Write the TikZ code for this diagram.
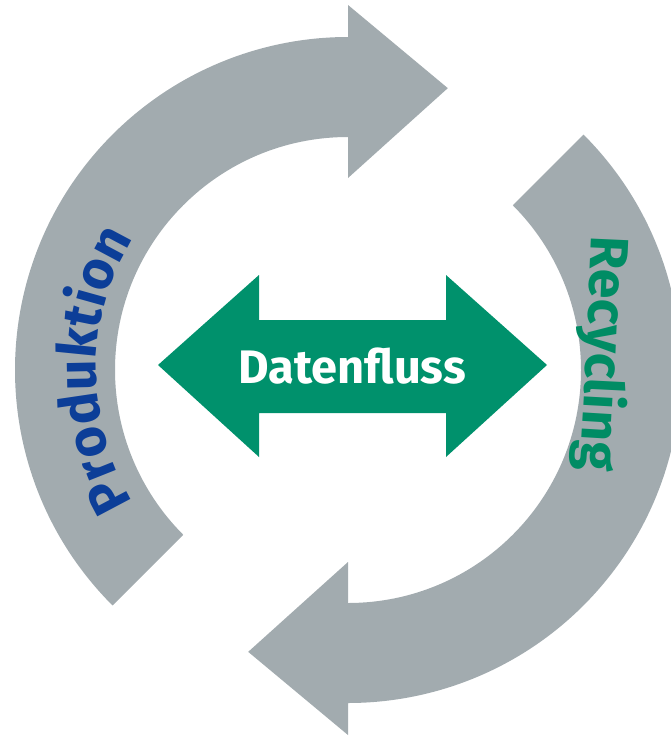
\documentclass[tikz,border=0pt]{standalone}
\usepackage{fontspec}
\setmainfont{Fira Sans}
\usetikzlibrary{decorations.text}
\definecolor{ringgray}{RGB}{162,171,175}
\definecolor{flowgreen}{RGB}{0,145,108}
\definecolor{prodblue}{RGB}{12,62,152}
\definecolor{recgreen}{RGB}{0,140,100}
\newcommand\ringfont{\fontsize{54}{54}\selectfont\bfseries}

\begin{document}
\begin{tikzpicture}[x=1pt,y=1pt,
        ringarrow/.style={fill=ringgray},
        flowarrow/.style={fill=flowgreen},
        every node/.style={inner sep=0pt}]
    \useasboundingbox (0,0) rectangle (671,-744);

    \begin{scope}[shift={(348,-370)}]
        % produktion
        \fill[ringarrow] (225:333) arc[start angle=225,end angle=90,radius=333]
            -- (90:365) -- (70.5:299) -- (90:192) -- (90:233)
            arc[start angle=90,end angle=225,radius=233] -- cycle;
        % recycling
        \fill[ringarrow] (45:333) arc[start angle=45,end angle=-90,radius=333]
            -- (-90:365) -- (-109.5:299) -- (-90:192) -- (-90:233)
            arc[start angle=-90,end angle=45,radius=233] -- cycle;

        \path[decorate,decoration={text along path,text align=center,
                text={|\ringfont\color{prodblue}|Produktion}}]
            (235:252) arc[start angle=235,end angle=125,radius=252];
    \end{scope}
    \path[decorate,decoration={text along path,text align=center,
            text={|\ringfont\color{recgreen}|Recycling}}]
        (594,-195) .. controls (588,-300) and (586,-420) .. (576,-510);

    % datenfluss
    \fill[flowarrow] (158,-365) -- (259,-275) -- (259,-320) -- (446,-320)
        -- (446,-275) -- (547,-365) -- (446,-457) -- (446,-413)
        -- (259,-413) -- (259,-457) -- cycle;
    \node[text=white,font=\bfseries\fontsize{47}{47}\selectfont] (flow)
        at (352,-366) {Datenfluss};
\end{tikzpicture}
\end{document}
